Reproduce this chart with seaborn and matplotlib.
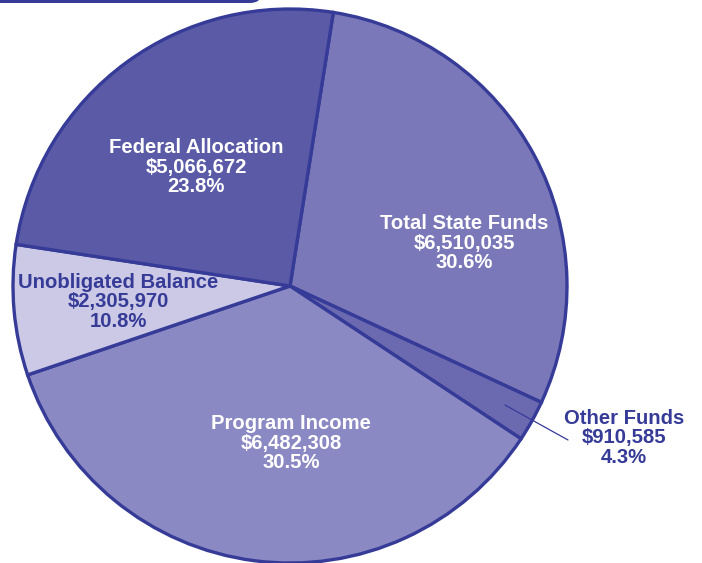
import matplotlib
matplotlib.use("Agg")
import matplotlib.pyplot as plt
from matplotlib.patches import FancyBboxPatch
import seaborn as sns

# slice data (order: clockwise from top)
categories = ["Total State Funds", "Other Funds", "Program Income",
              "Unobligated Balance", "Federal Allocation"]
amounts = ["$6,510,035", "$910,585", "$6,482,308", "$2,305,970", "$5,066,672"]
percents = ["30.6%", "4.3%", "30.5%", "10.8%", "23.8%"]
# slice sizes as drawn in the picture (percent of the circle)
drawn_share = [29.4, 2.4, 35.5, 7.6, 25.1]

colors = ["#7a78b9", "#6b6ab1", "#8b89c3", "#cbc9e5", "#5a5aa7"]
edge = "#363b98"
text_colors = ["white", edge, "white", edge, "white"]

sns.set_theme(style="white")
plt.rcParams["font.family"] = ["Liberation Sans", "DejaVu Sans"]

W, H = 702, 563
fig = plt.figure(figsize=(W / 100, H / 100), dpi=100)
ax = fig.add_axes([0, 0, 1, 1])

cx, cy, r = 290, H - 286, 277
ax.pie(drawn_share, colors=colors, startangle=81, counterclock=False,
       center=(cx, cy), radius=r,
       wedgeprops=dict(edgecolor=edge, linewidth=2.4))

ax.set_xlim(0, W)
ax.set_ylim(0, H)
ax.set_aspect("equal")
ax.axis("off")

# label positions in pixel coords (x, y from top)
label_pos = [(464, 243), (624, 438), (291, 443), (118, 302), (196, 167)]
for name, amt, pct, (lx, ly), tc in zip(categories, amounts, percents,
                                         label_pos, text_colors):
    ax.text(lx, H - ly, f"{name}\n{amt}\n{pct}", ha="center", va="center",
            fontsize=14.6, fontweight="bold", color=tc, linespacing=1.06)

# leader line for the small slice
ax.plot([505, 568], [H - 405, H - 440], color=edge, linewidth=0.9)

# dark band at the top-left edge
band = FancyBboxPatch((-30, H - 3), 292, 40,
                      boxstyle="round,pad=0,rounding_size=12",
                      facecolor=edge, edgecolor="none", clip_on=True)
ax.add_patch(band)

fig.savefig("out.png", dpi=100)
